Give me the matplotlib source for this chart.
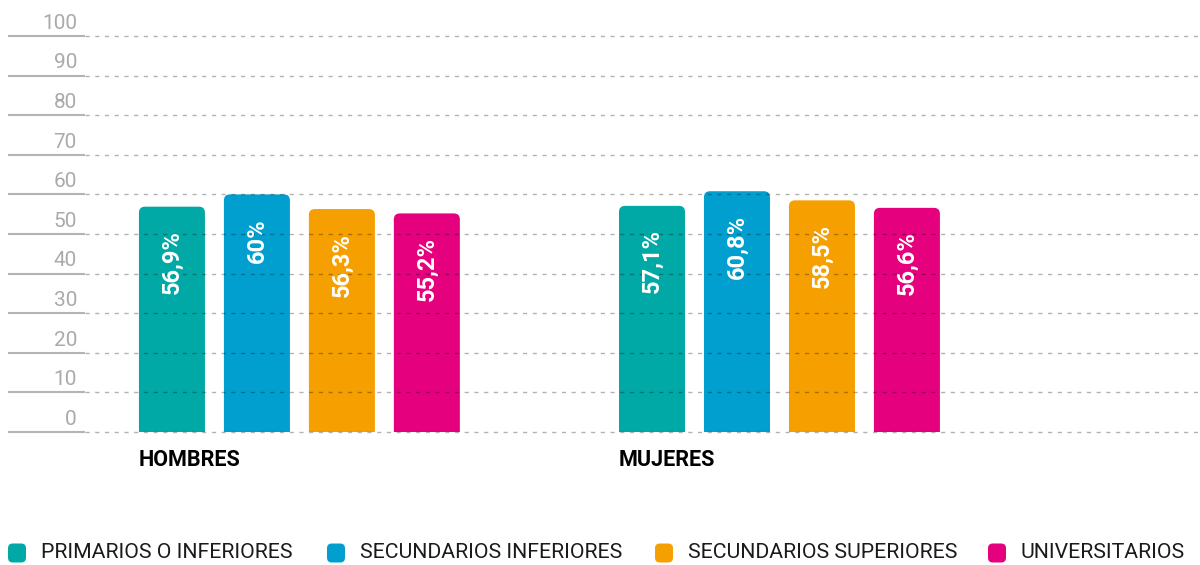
import numpy as np
import matplotlib.pyplot as plt
from matplotlib.patches import FancyBboxPatch

# Data ---------------------------------------------------------------------
groups = ['HOMBRES', 'MUJERES']
levels = ['PRIMARIOS O INFERIORES', 'SECUNDARIOS INFERIORES',
          'SECUNDARIOS SUPERIORES', 'UNIVERSITARIOS']
hombres = [56.9, 60.0, 56.3, 55.2]
mujeres = [57.1, 60.8, 58.5, 56.6]
labels_h = ['56,9%', '60%', '56,3%', '55,2%']
labels_m = ['57,1%', '60,8%', '58,5%', '56,6%']
yticks = [0, 10, 20, 30, 40, 50, 60, 70, 80, 90, 100]
colors = ['#00a9a6', '#009fd0', '#f5a000', '#e5007d']
# --------------------------------------------------------------------------

plt.rcParams['font.family'] = ['Roboto', 'DejaVu Sans']

W, H = 1200, 565
fig = plt.figure(figsize=(W/100, H/100), dpi=100)
ax_l, ax_r, ax_b, ax_t = 8, 1200, 432, 36  # pixel box of plot area
ax = fig.add_axes([ax_l/W, 1-ax_b/H, (ax_r-ax_l)/W, (ax_b-ax_t)/H])

xlim = (-0.607, 1.876)
ylim = (0, 100)
ax.set_xlim(*xlim)
ax.set_ylim(*ylim)
ax.axis('off')

pitch = 0.177   # distance between bars within a group
width = 0.1375  # bar width
offs = (np.arange(4) - 1.5) * pitch

# aspect to keep corner rounding circular
xpp = (xlim[1]-xlim[0]) / (ax_r-ax_l)
ypp = (ylim[1]-ylim[0]) / (ax_b-ax_t)
aspect = ypp / xpp
r = 6 * xpp

data = [hombres, mujeres]
texts = [labels_h, labels_m]
for g in range(2):
    for i in range(4):
        x0 = g + offs[i] - width/2
        v = data[g][i]
        p = FancyBboxPatch((x0, -5), width, v + 5,
                           boxstyle='round,pad=0,rounding_size=%f' % r,
                           mutation_aspect=aspect, fc=colors[i], ec='none',
                           zorder=1)
        ax.add_patch(p)
        ax.annotate(texts[g][i], xy=(g + offs[i], v), xytext=(0, -17),
                    textcoords='offset points', rotation=90,
                    ha='center', va='top', color='white',
                    fontsize=17, fontweight='bold', zorder=3)
    ax.text(g + offs[0] - width/2, -7, groups[g], ha='left', va='center',
            fontsize=15.5, fontweight='bold', color='black', clip_on=False)

# gridlines: solid stub at left, dashed rest
stub = (85 - ax_l) / (ax_r - ax_l)
for t in yticks:
    ax.plot([0, stub], [t, t], transform=ax.get_yaxis_transform(),
            color='#b4b4b4', lw=1.5, solid_capstyle='butt', clip_on=False,
            zorder=2)
    ax.plot([stub, 1], [t, t], transform=ax.get_yaxis_transform(),
            color='black', alpha=0.3, lw=1, dashes=(3, 4), clip_on=False,
            zorder=2)
    ax.text((77 - ax_l) / (ax_r - ax_l), t + 0.8, str(t),
            transform=ax.get_yaxis_transform(), ha='right', va='bottom',
            fontsize=15, color='#aaaaaa')

# legend
leg_x = [8, 327, 655, 988]
leg_y = 553
for i, lab in enumerate(levels):
    box = FancyBboxPatch((leg_x[i]/W, (H-leg_y-9.5)/H), 18/W, 19/H,
                         boxstyle='round,pad=0,rounding_size=0.004',
                         mutation_aspect=W/H, transform=fig.transFigure,
                         fc=colors[i], ec='none')
    fig.add_artist(box)
    fig.text((leg_x[i] + 33)/W, (H-leg_y)/H, lab, ha='left', va='center',
             fontsize=15.3, color='#1a1a1a')

fig.savefig('out.png', dpi=100)
